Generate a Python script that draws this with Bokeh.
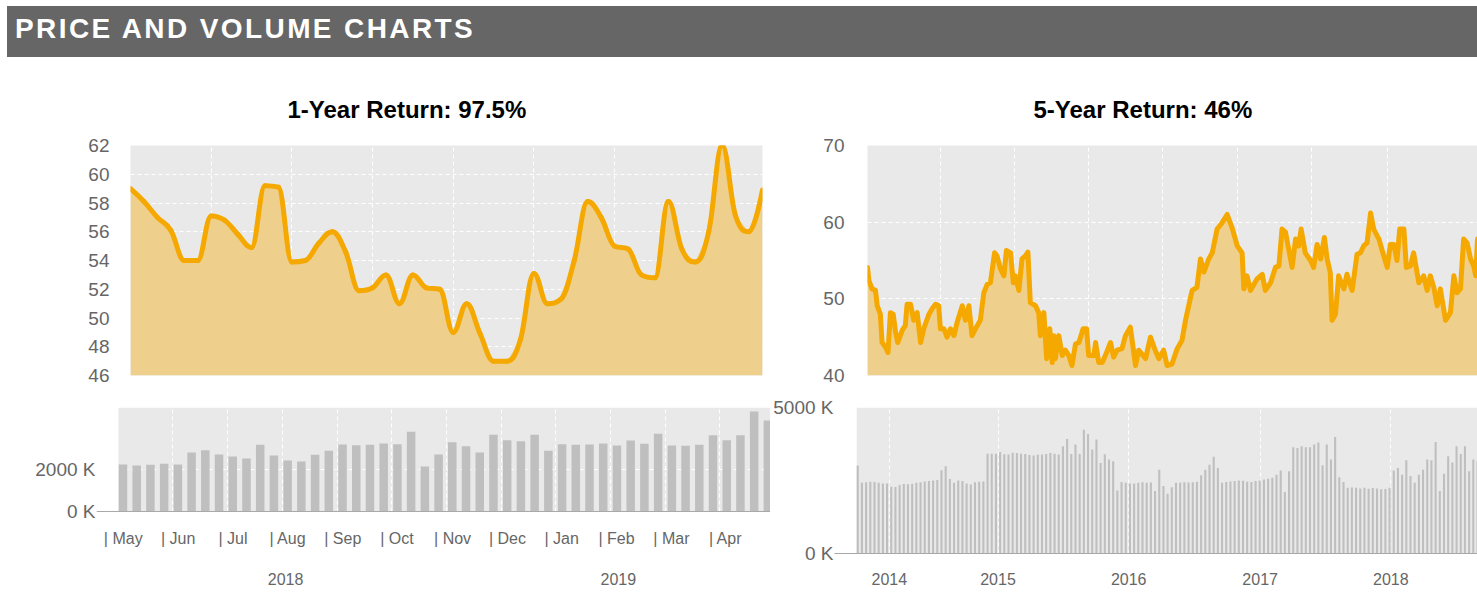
from bokeh.plotting import figure
from bokeh.models import FixedTicker, BoxAnnotation, LinearAxis, Div, Range1d, Span
from bokeh.core.properties import value
from bokeh.layouts import column, row
from bokeh.embed import file_html
from bokeh.resources import INLINE

# ---------------- data ----------------
header_text = "PRICE AND VOLUME CHARTS"
title_1y = "1-Year Return: 97.5%"
title_5y = "5-Year Return: 46%"

# 1-year chart (weekly points)
one_year_price = [59.0, 58.1, 57.0, 56.1, 54.0, 54.0, 57.1, 56.8, 55.8, 54.9,
                  59.2, 59.1, 53.9, 54.0, 55.2, 56.0, 54.6, 51.9, 52.1, 53.0,
                  51.0, 53.0, 52.1, 52.0, 49.0, 51.0, 48.9, 47.0, 47.0, 48.5,
                  53.1, 51.0, 51.3, 54.0, 58.1, 57.0, 55.0, 54.8, 53.0, 52.8,
                  58.1, 54.8, 53.9, 56.0, 62.0, 57.1, 56.0, 58.9]
one_year_volume_k = [2238, 2190, 2222, 2270, 2238, 2809, 2920, 2714, 2619, 2523,
                     3174, 2666, 2428, 2381, 2698, 2888, 3190, 3158, 3174, 3237,
                     3206, 3793, 2142, 2714, 3301, 3111, 2809, 3650, 3396, 3349,
                     3650, 2888, 3206, 3174, 3190, 3237, 3142, 3380, 3222, 3698,
                     3142, 3127, 3174, 3634, 3396, 3634, 4761, 4333]
one_year_grid_weeks = [0, 6, 12, 18, 24, 30, 36]
price_ticks_1y = [46, 48, 50, 52, 54, 56, 58, 60, 62]
volume_ticks_1y = [0, 2000]
month_names = ["May", "Jun", "Jul", "Aug", "Sep", "Oct", "Nov", "Dec",
               "Jan", "Feb", "Mar", "Apr"]
month_start_week = [-0.4, 3.6, 7.6, 11.6, 15.6, 19.55, 23.6, 27.6,
                    31.55, 35.55, 39.55, 43.5]
year_names_1y = ["2018", "2019"]
year_pos_1y = [11.85, 36.1]

# 5-year chart (day offsets from start)
five_year_day = [0, 4, 13, 23, 28, 37, 42, 52, 59, 66, 74, 81, 87, 100, 109, 114,
                 124, 133, 143, 153, 162, 177, 186, 196, 205, 210, 220, 229, 239,
                 249, 258, 273, 282, 292, 301, 316, 325, 335, 345, 354, 366, 373,
                 383, 393, 400, 412, 420, 426, 436, 445, 455, 462, 469, 484, 493,
                 498, 508, 516, 525, 532, 537, 541, 551, 561, 570, 580, 589, 599,
                 609, 621, 631, 637, 652, 657, 666, 676, 685, 700, 709, 719, 733,
                 743, 757, 772, 781, 801, 815, 827, 839, 853, 863, 877, 892, 906,
                 916, 935, 949, 959, 969, 983, 993, 1007, 1021, 1036, 1050, 1065,
                 1079, 1084, 1093, 1103, 1122, 1137, 1146, 1161, 1175, 1185, 1194,
                 1204, 1223, 1233, 1242, 1249, 1261, 1276, 1285, 1295, 1305, 1316,
                 1324, 1333, 1338, 1348, 1357, 1372, 1381, 1396, 1410, 1420, 1429,
                 1439, 1449, 1458, 1473, 1487, 1497, 1506, 1516, 1525, 1533, 1545,
                 1552, 1564, 1573, 1588, 1602, 1612, 1621, 1631, 1641, 1650, 1665,
                 1679, 1689, 1698, 1708, 1717, 1727, 1737, 1746, 1752, 1757]
five_year_price = [54.1, 52.4, 51.3, 51.1, 49.1, 48.0, 44.3, 43.7, 43.0, 48.2, 48.0,
                   45.6, 44.3, 45.9, 46.5, 49.3, 49.3, 47.2, 48.2, 44.3, 46.1, 48.0,
                   48.7, 49.3, 49.1, 46.1, 46.1, 45.0, 46.1, 45.2, 46.9, 49.1, 47.2,
                   49.1, 45.2, 46.5, 47.2, 50.8, 51.9, 52.1, 56.0, 55.6, 53.9, 53.0,
                   56.3, 56.0, 52.1, 53.0, 51.1, 55.2, 55.6, 56.1, 49.5, 49.1, 48.2,
                   45.2, 48.2, 42.2, 46.1, 41.7, 45.2, 42.2, 45.2, 42.6, 43.3, 42.6,
                   41.3, 44.1, 44.3, 46.1, 46.1, 42.6, 42.6, 44.3, 41.7, 41.7, 42.6,
                   44.3, 42.4, 43.3, 43.5, 45.2, 46.3, 41.3, 43.3, 42.2, 45.0, 43.5,
                   42.2, 43.3, 41.3, 41.5, 43.5, 44.6, 47.2, 51.1, 51.5, 55.2, 53.5,
                   55.2, 56.0, 59.1, 59.9, 61.0, 59.3, 56.9, 56.0, 51.3, 53.0, 51.1,
                   52.6, 53.2, 51.1, 52.1, 54.1, 54.3, 59.1, 58.7, 54.1, 57.8, 56.9,
                   59.1, 56.0, 55.0, 54.1, 57.1, 55.2, 58.0, 55.2, 53.4, 47.2, 48.0,
                   53.0, 51.3, 53.2, 51.1, 55.8, 56.0, 56.9, 57.3, 61.2, 59.1, 57.8,
                   55.6, 54.1, 57.1, 57.1, 55.0, 59.1, 59.1, 54.1, 54.3, 56.0, 52.1,
                   53.0, 51.1, 53.0, 51.5, 49.1, 51.3, 47.2, 48.2, 53.0, 50.8, 51.3,
                   57.8, 57.3, 55.2, 54.3, 53.0, 57.8]
five_year_grid_days = [210, 424, 637, 850, 1066, 1280, 1499]
price_ticks_5y = [40, 50, 60, 70]
five_year_volume_k = [3010, 2420, 2440, 2460, 2450, 2420, 2400, 2400, 2290, 2280,
                      2350, 2380, 2370, 2390, 2420, 2440, 2470, 2480, 2500, 2520,
                      2850, 2990, 2550, 2420, 2500, 2480, 2400, 2360, 2440, 2460,
                      2470, 3420, 3420, 3420, 3480, 3400, 3390, 3450, 3440, 3420,
                      3410, 3370, 3360, 3380, 3390, 3410, 3440, 3420,
                      3390, 3670, 3920, 3410, 3730, 3410, 4240, 4090, 3560, 3900,
                      3100, 3400, 3220, 3160, 2160, 2450,
                      2420, 2400, 2400, 2420, 2440, 2420, 2430,
                      2140, 2870, 2310, 2050, 2270, 2420,
                      2420, 2440, 2430, 2440, 2460,
                      2680, 2870, 3040, 3310, 2930, 2420,
                      2450, 2470, 2480, 2500, 2490, 2460, 2450, 2480, 2500,
                      2530, 2560, 2590, 2700, 2840, 2110, 2820,
                      3640, 3610, 3670, 3640, 3640, 3730, 3800, 3020, 3730, 3220, 3990,
                      2610, 2450, 2250, 2260, 2250, 2230, 2250, 2220, 2240, 2230,
                      2200, 2210, 2250,
                      2840, 2930, 2700, 3190, 2650, 2420, 2700, 2870, 3220, 3190,
                      3820, 2140, 2730, 3330, 3120, 3670, 3410, 3670, 2820, 3220, 3160]
volume_ticks_5y = [0, 5000]
year_names_5y = ["2014", "2015", "2016", "2017", "2018"]
year_pos_5y = [7.55, 33.5, 64.7, 96.1, 127.3]

# ---------------- style ----------------
FONT = "Liberation Sans"
LINE = "#f5a800"
FILL = "#efcf8c"
BG = "#e9e9e9"
BAR = "#bfbfbf"
LABEL = "#666666"
AXIS = "#a8a8a8"


def make_fig(width, height, x_range, y_range, **kw):
    p = figure(width=width, height=height, x_range=x_range, y_range=y_range,
               output_backend="svg", toolbar_location=None,
               outline_line_color=None, border_fill_color="white", **kw)
    return p


def style_y(p, ticks, labels, standoff):
    ax = p.yaxis[0]
    ax.ticker = FixedTicker(ticks=ticks)
    ax.major_label_overrides = {t: l for t, l in zip(ticks, labels)}
    ax.axis_line_color = None
    ax.major_tick_line_color = None
    ax.minor_tick_line_color = None
    ax.major_tick_out = 0
    ax.major_tick_in = 0
    ax.major_label_standoff = standoff
    ax.major_label_text_font = FONT
    ax.major_label_text_font_size = "19px"
    ax.major_label_text_color = LABEL


def style_grid(g, ticks):
    g.ticker = FixedTicker(ticks=ticks)
    g.grid_line_color = "white"
    g.grid_line_dash = "4 3"
    g.grid_line_width = 1


def style_x_labels(ax, ticks, labels, standoff, line_color=None):
    ax.ticker = FixedTicker(ticks=ticks)
    ax.major_label_overrides = {t: l for t, l in zip(ticks, labels)}
    ax.axis_line_color = line_color
    ax.axis_line_width = 1
    ax.major_tick_line_color = None
    ax.minor_tick_line_color = None
    ax.major_tick_out = 0
    ax.major_tick_in = 0
    ax.major_label_standoff = standoff
    ax.major_label_text_font = FONT
    ax.major_label_text_font_size = "16px"
    ax.major_label_text_color = LABEL


def style_title(p, offset):
    p.title.align = "left"
    p.title.offset = offset
    p.title.standoff = 46
    p.title.text_font = FONT
    p.title.text_font_size = "24px"
    p.title.text_font_style = "bold"
    p.title.text_color = "#000000"


def spline_controls(xs, ys, smoothing=1.5):
    n = len(xs)
    denom = smoothing + 1
    lc = [(xs[i], ys[i]) for i in range(n)]
    rc = [(xs[i], ys[i]) for i in range(n)]
    for i in range(1, n - 1):
        x, y = xs[i], ys[i]
        px, py = xs[i - 1], ys[i - 1]
        nx, ny = xs[i + 1], ys[i + 1]
        lcx = (smoothing * x + px) / denom
        lcy = (smoothing * y + py) / denom
        rcx = (smoothing * x + nx) / denom
        rcy = (smoothing * y + ny) / denom
        if rcx != lcx:
            corr = ((rcy - lcy) * (rcx - x)) / (rcx - lcx) + y - rcy
            lcy += corr
            rcy += corr
        if lcy > py and lcy > y:
            lcy = max(py, y)
            rcy = 2 * y - lcy
        elif lcy < py and lcy < y:
            lcy = min(py, y)
            rcy = 2 * y - lcy
        if rcy > ny and rcy > y:
            rcy = max(ny, y)
            lcy = 2 * y - rcy
        elif rcy < ny and rcy < y:
            rcy = min(ny, y)
            lcy = 2 * y - rcy
        lc[i] = (lcx, lcy)
        rc[i] = (rcx, rcy)
    return lc, rc


# ---------------- header ----------------
header = Div(
    text=('<div style="width:1470px;height:51px;background:#666666;color:#ffffff;'
          'font-family:\'Liberation Sans\',Arial,sans-serif;font-weight:bold;'
          'font-size:28px;letter-spacing:2.4px;line-height:46px;padding-left:8px;'
          'box-sizing:border-box;white-space:nowrap;">' + header_text + '</div>'),
    width=1470, height=51, margin=(6, 0, 0, 7))

# ---------------- 1-year price ----------------
weeks = list(range(len(one_year_price)))
p1 = make_fig(790, 333, Range1d(0, len(weeks) - 1), Range1d(46, 62),
              title=title_1y, background_fill_color=BG,
              min_border_left=130, min_border_right=28,
              min_border_top=88, min_border_bottom=15)
style_title(p1, 157)
p1.xaxis.visible = False
style_y(p1, price_ticks_1y, [str(t) for t in price_ticks_1y], 21)
style_grid(p1.xgrid[0], one_year_grid_weeks)
style_grid(p1.ygrid[0], price_ticks_1y)
p1.varea(x=weeks, y1=46, y2=one_year_price, fill_color=FILL, fill_alpha=1)
lc, rc = spline_controls(weeks, one_year_price)
p1.bezier(x0=weeks[:-1], y0=one_year_price[:-1],
          x1=weeks[1:], y1=one_year_price[1:],
          cx0=[c[0] for c in rc[:-1]], cy0=[c[1] for c in rc[:-1]],
          cx1=[c[0] for c in lc[1:]], cy1=[c[1] for c in lc[1:]],
          line_color=LINE, line_width=5, line_cap="round")

# ---------------- 5-year price ----------------
p2 = make_fig(687, 333, Range1d(0, 1757), Range1d(40, 70),
              title=title_5y, background_fill_color=BG,
              min_border_left=77, min_border_right=0,
              min_border_top=88, min_border_bottom=15)
style_title(p2, 166)
p2.xaxis.visible = False
style_y(p2, price_ticks_5y, [str(t) for t in price_ticks_5y], 23)
style_grid(p2.xgrid[0], five_year_grid_days)
style_grid(p2.ygrid[0], price_ticks_5y)
p2.varea(x=five_year_day, y1=40, y2=five_year_price, fill_color=FILL, fill_alpha=1)
p2.line(five_year_day, five_year_price, line_color=LINE, line_width=5,
        line_join="round", line_cap="round")

# ---------------- 1-year volume ----------------
# frame runs down to the 5-year volume baseline; the bars sit on value 0
v1 = make_fig(770, 214, Range1d(-1.93, 47.19), Range1d(-2000, 4950),
              background_fill_color="white",
              min_border_left=96, min_border_right=0,
              min_border_top=17, min_border_bottom=51)
v1.add_layout(BoxAnnotation(left=-0.33, right=47.19, bottom=0, top=4950,
                            fill_color=BG, fill_alpha=1, line_color=None,
                            level="image"))
style_y(v1, volume_ticks_1y, [f"{t} K" for t in volume_ticks_1y], 1)
style_grid(v1.ygrid[0], volume_ticks_1y[1:])
style_grid(v1.xgrid[0], month_start_week[1:])
v1.add_layout(Span(location=0, dimension="width", line_color=AXIS, line_width=1))
month_label_pos = [m + 0.42 for m in month_start_week]
v1.text(x=month_label_pos, y=[0] * len(month_label_pos),
        text=["| " + m for m in month_names], y_offset=27,
        text_align="center", text_baseline="middle",
        text_font=value(FONT), text_font_size="16px", text_color=LABEL)
style_x_labels(v1.xaxis[0], year_pos_1y, year_names_1y, 19)
v1.vbar(x=weeks, top=one_year_volume_k, width=0.62, fill_color=BAR,
        line_color=None)

# ---------------- 5-year volume ----------------
bars = list(range(len(five_year_volume_k)))
v2 = make_fig(707, 214, Range1d(-5.55, 148.0), Range1d(0, 5000),
              background_fill_color="white",
              min_border_left=62, min_border_right=0,
              min_border_top=17, min_border_bottom=51)
v2.add_layout(BoxAnnotation(left=-0.25, right=148.0, bottom=0, top=5000,
                            fill_color=BG, fill_alpha=1, line_color=None,
                            level="image"))
style_y(v2, volume_ticks_5y, [f"{t} K" for t in volume_ticks_5y], 1)
style_grid(v2.ygrid[0], volume_ticks_5y)
style_grid(v2.xgrid[0], year_pos_5y)
style_x_labels(v2.xaxis[0], year_pos_5y, year_names_5y, 19, line_color=AXIS)
v2.vbar(x=bars, top=five_year_volume_k, width=0.5, fill_color=BAR, line_color=None)

layout = column(header, row(p1, p2), row(v1, v2))

with open("out.html", "w") as f:
    f.write(file_html(layout, INLINE))
